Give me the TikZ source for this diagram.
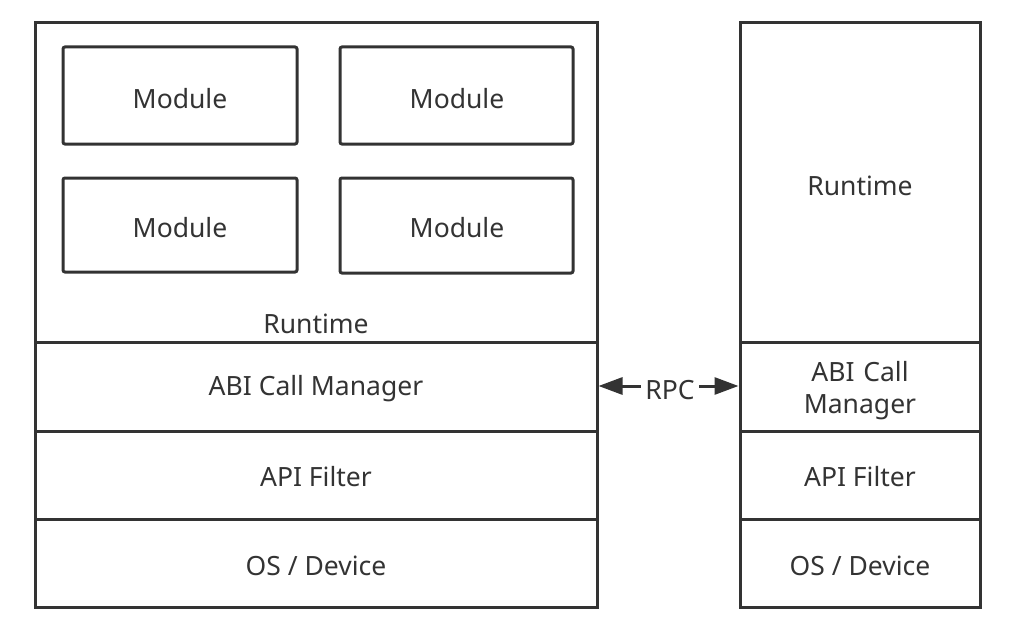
\documentclass[tikz,border=0pt]{standalone}
\usepackage{fontspec}
\setmainfont{Noto Sans}
\usetikzlibrary{arrows.meta}
\definecolor{ink}{HTML}{333333}
\begin{document}
\begin{tikzpicture}[x=1pt,y=-1pt,
  line width=3pt, draw=ink,
  lbl/.style={text=ink, font=\fontsize{26.5}{32}\selectfont, inner sep=0pt, align=center},
  modbox/.style={draw=ink, line width=3pt, rounded corners=2pt}]
\useasboundingbox (0,0) rectangle (1013,634);
% left stack
\draw[ink] (35,23) rectangle (597,607);
\draw[ink] (35,342) -- (597,342);
\draw[ink] (35,431) -- (597,431);
\draw[ink] (35,519) -- (597,519);
% right stack
\draw[ink] (740,23) rectangle (980,607);
\draw[ink] (740,342) -- (980,342);
\draw[ink] (740,431) -- (980,431);
\draw[ink] (740,519) -- (980,519);
% modules
\draw[modbox] (63,47) rectangle (297,144);
\draw[modbox] (340,47) rectangle (573,144);
\draw[modbox] (63,178) rectangle (297,272);
\draw[modbox] (340,178) rectangle (573,273);
\node[lbl] (m1) at (180,99) {Module};
\node[lbl] (m2) at (457,99) {Module};
\node[lbl] (m3) at (180,228) {Module};
\node[lbl] (m4) at (457,228) {Module};
\node[lbl] (rtl) at (316,324) {Runtime};
\node[lbl] (abil) at (316,389) {ABI Call Manager};
\node[lbl] (apil) at (316,477) {API Filter};
\node[lbl] (osl) at (316,566) {OS / Device};
\node[lbl] (rtr) at (860,186) {Runtime};
\node[lbl, text width=200pt] (abir) at (860,391) {ABI Call\\Manager};
\node[lbl] (apir) at (860,477) {API Filter};
\node[lbl] (osr) at (860,566) {OS / Device};
% RPC
\node[lbl, inner xsep=3pt] (rpc) at (670,390) {RPC};
\coordinate (lend) at (598.5,386);
\coordinate (rend) at (738.5,386);
\draw[ink, -{Triangle[length=24pt,width=17pt]}] (rpc.west |- lend) -- (lend);
\draw[ink, -{Triangle[length=24pt,width=17pt]}] (rpc.east |- rend) -- (rend);
\end{tikzpicture}
\end{document}
